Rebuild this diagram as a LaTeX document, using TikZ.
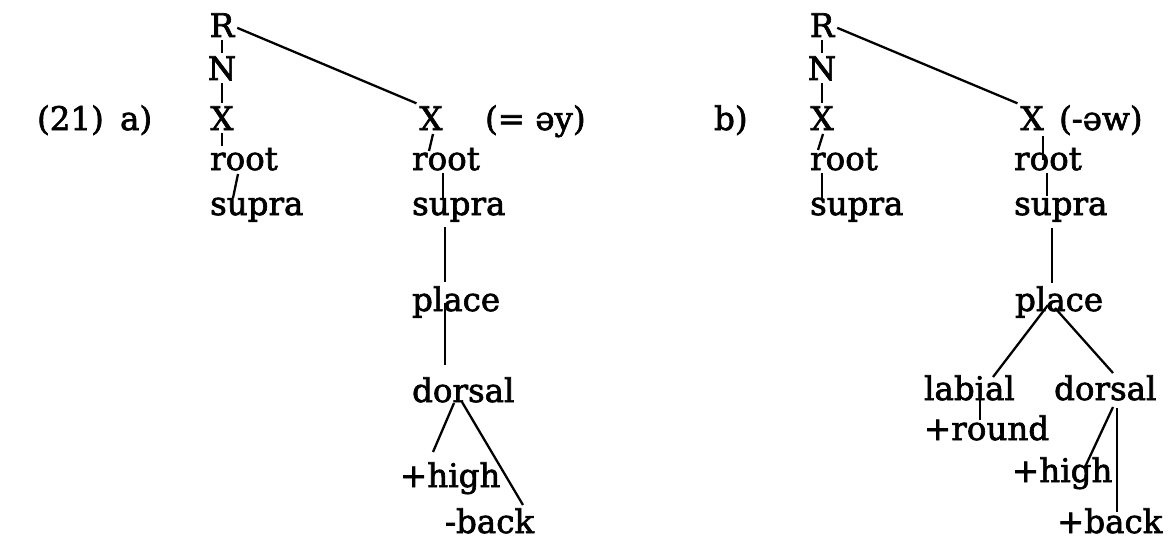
\documentclass[tikz,border=0pt]{standalone}
\usepackage{fontspec}
\setmainfont{DejaVu Serif}[BoldFont=DejaVu Serif, BoldFeatures={FakeBold=2}]
\usetikzlibrary{calc}
\tikzset{
  feat/.style={inner sep=1pt, anchor=base west, font=\fontsize{18.5}{22}\selectfont\bfseries},
  tier/.style={inner sep=1.5pt, anchor=base, font=\fontsize{18.5}{22}\selectfont\bfseries},
  assoc/.style={line width=1.3pt},
}

\begin{document}
\begin{tikzpicture}[x=0.02cm,y=-0.02cm]
            \useasboundingbox (0,0) rectangle (1168,544);
            \node[feat] (ex) at (35,130) {(21)};
            \node[feat] (la) at (118,130) {a)};
            % a) first skeleton slot
            \node[tier] (Ra) at (222,37) {R};
            \node[tier] (Na) at (222,80) {N};
            \node[tier] (Xa) at (222,130) {X};
            \node[feat] (rta) at (208,170) {root};
            \node[feat] (spa) at (208,215) {supra};
            % a) second skeleton slot
            \node[tier] (Xb) at (431,130) {X};
            \node[feat] (gla) at (483,130) {(= əy)};
            \node[feat] (rtb) at (410,170) {root};
            \node[feat] (spb) at (410,215) {supra};
            \node[feat] (pla) at (410,311) {place};
            \node[feat] (dra) at (410,402) {dorsal};
            \node[feat] (hia) at (398,487) {+high};
            \node[feat] (bka) at (443,533) {-back};
            \draw[assoc] (Ra.south) -- (Na.north);
            \draw[assoc] (Na.south) -- (Xa.north);
            \draw[assoc] (Xa.south) -- (Xa.south |- rta.north);
            \draw[assoc] ($(rta.base west)+(30,4)$) -- ($(spa.base west)+(25,-17)$);
            \draw[assoc] (Ra.-10) -- (Xb.north west);
            \draw[assoc] ($(Xb.south)+(2,1)$) -- ($(rtb.base west)+(19,-19)$);
            \draw[assoc] ($(rtb.base west)+(33,3)$) -- ($(spb.base west)+(33,-17)$);
            \draw[assoc] ($(spb.base west)+(35,12)$) -- ($(pla.base west)+(35,-29)$);
            \draw[assoc] ($(pla.base west)+(35,-8)$) -- ($(dra.base west)+(35,-37)$);
            \draw[assoc] ($(dra.base west)+(44,1)$) -- ($(hia.base west)+(35,-35)$);
            \draw[assoc] ($(dra.base west)+(52,0)$) -- ($(bka.base west)+(80,-28)$);
            % b)
            \node[feat] (lb) at (712,130) {b)};
            \node[tier] (Rb) at (822,37) {R};
            \node[tier] (Nb) at (822,80) {N};
            \node[tier] (Xc) at (822,130) {X};
            \node[feat] (rtc) at (808,170) {root};
            \node[feat] (spc) at (808,215) {supra};
            \node[tier] (Xd) at (1032,130) {X};
            \node[feat] (glb) at (1057,130) {(-əw)};
            \node[feat] (rtd) at (1012,170) {root};
            \node[feat] (spd) at (1012,215) {supra};
            \node[feat] (plb) at (1013,311) {place};
            \node[feat] (lab) at (922,400) {labial};
            \node[feat] (rnd) at (922,440) {+round};
            \node[feat] (drb) at (1052,400) {dorsal};
            \node[feat] (hib) at (1010,482) {+high};
            \node[feat] (bkb) at (1055,533) {+back};
            \draw[assoc] (Rb.south) -- (Nb.north);
            \draw[assoc] (Nb.south) -- (Xc.north);
            \draw[assoc] ($(Xc.south)+(1,1)$) -- ($(rtc.base west)+(10,-20)$);
            \draw[assoc] ($(rtc.base west)+(14,3)$) -- ($(spc.base west)+(14,-17)$);
            \draw[assoc] (Rb.-10) -- (Xd.north west);
            \draw[assoc] ($(Xd.south)+(11,3)$) -- ($(rtd.base west)+(31,-10)$);
            \draw[assoc] ($(rtd.base west)+(35,3)$) -- ($(spd.base west)+(35,-19)$);
            \draw[assoc] ($(spd.base west)+(40,13)$) -- ($(plb.base west)+(39,-28)$);
            \draw[assoc] ($(plb.base west)+(35,-6)$) -- ($(lab.base west)+(71,-23)$);
            \draw[assoc] ($(plb.base west)+(42,-3)$) -- ($(drb.base west)+(61,-27)$);
            \draw[assoc] ($(lab.base west)+(58,-3)$) -- ($(rnd.base west)+(58,-20)$);
            \draw[assoc] ($(drb.base west)+(61,7)$) -- ($(hib.base west)+(75,-15)$);
            \draw[assoc] ($(drb.base west)+(65,8)$) -- ($(bkb.base west)+(62,-21)$);
        \end{tikzpicture}
\end{document}
